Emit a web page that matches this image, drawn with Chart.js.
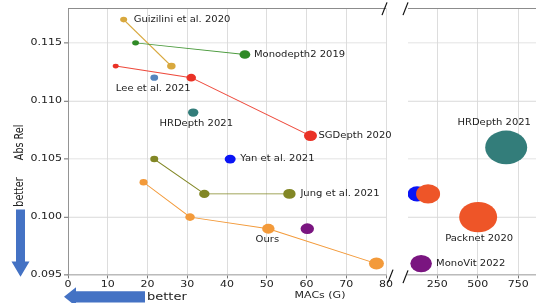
<!DOCTYPE html>
<html>
<head>
<meta charset="utf-8">
<script src="https://cdn.jsdelivr.net/npm/chart.js@4.4.1/dist/chart.umd.min.js"></script>
<style>
html, body { margin: 0; padding: 0; background: #fff; overflow: hidden; }
#left { position: absolute; left: 0; top: 0; }
#right { position: absolute; left: 395px; top: 0; }
</style>
</head>
<body>
<canvas id="left" width="400" height="379"></canvas>
<canvas id="right" width="141" height="379"></canvas>
<script>
Chart.defaults.font.family = "'DejaVu Sans', sans-serif";
Chart.defaults.color = '#222';

// the original figure is squashed vertically (circles look like ellipses)
const squashY = 0.8;

// low resolution models (left panel), MACs (G) vs Abs Rel
const guiziliniMacs = [14, 26];
const guiziliniAbsRel = [0.117, 0.113];
const monodepthMacs = [17, 44.5];
const monodepthAbsRel = [0.115, 0.114];
const sgdepthMacs = [12, 31, 61];
const sgdepthAbsRel = [0.113, 0.112, 0.107];
const leeMacs = [21.7];
const leeAbsRel = [0.112];
const hrdepthMacs = [31.5];
const hrdepthAbsRel = [0.109];
const yanMacs = [40.8];
const yanAbsRel = [0.105];
const jungMacs = [21.7, 34.3, 55.7];
const jungAbsRel = [0.105, 0.102, 0.102];
const oursMacs = [19, 30.7, 50.4, 77.6];
const oursAbsRel = [0.103, 0.100, 0.099, 0.096];
const monovitMacs = [60.2];
const monovitAbsRel = [0.099];

// high resolution models (right panel)
const yanHiMacs = [126];
const yanHiAbsRel = [0.102];
const packnetMacs = [194, 503];
const packnetAbsRel = [0.102, 0.100];
const hrdepthHiMacs = [676];
const hrdepthHiAbsRel = [0.106];
const monovitHiMacs = [151];
const monovitHiAbsRel = [0.096];

const yTicks = [0.095, 0.100, 0.105, 0.110, 0.115];
const leftXTicks = [0, 10, 20, 30, 40, 50, 60, 70, 80];
const rightXTicks = [250, 500, 750];

const leftSeries = [
  { name: 'Guizilini et al. 2020', x: guiziliniMacs, y: guiziliniAbsRel, color: '#d8a83e', line: true, r: [3.5, 4.3], lab: { i: 0, dx: 10, dy: 0, align: 'left' } },
  { name: 'Monodepth2 2019', x: monodepthMacs, y: monodepthAbsRel, color: '#2f8a26', lineColor: '#4a9a3c', line: true, r: [3.4, 5.4], lab: { i: 1, dx: 9, dy: 0, align: 'left' } },
  { name: 'SGDepth 2020', x: sgdepthMacs, y: sgdepthAbsRel, color: '#ea3226', lineColor: '#ee4a3c', line: true, r: [3, 4.8, 6.5], lab: { i: 2, dx: 8, dy: 0, align: 'left' } },
  { name: 'Lee et al. 2021', x: leeMacs, y: leeAbsRel, color: '#5584bd', r: [3.9], lab: { i: 0, dx: -1, dy: 14, align: 'center' } },
  { name: 'HRDepth 2021', x: hrdepthMacs, y: hrdepthAbsRel, color: '#337d7a', r: [5.2], lab: { i: 0, dx: 3, dy: 14, align: 'center' } },
  { name: 'Yan et al. 2021', x: yanMacs, y: yanAbsRel, color: '#0a14f5', r: [5.5], lab: { i: 0, dx: 10, dy: 0, align: 'left' } },
  { name: 'Jung et al. 2021', x: jungMacs, y: jungAbsRel, color: '#828725', line: true, r: [4, 5.2, 6.2], lab: { i: 2, dx: 11, dy: 0, align: 'left' } },
  { name: 'Ours', x: oursMacs, y: oursAbsRel, color: '#f39a3a', line: true, r: [4, 4.8, 6.2, 7.5], lab: { i: 2, dx: -1, dy: 14, align: 'center' } },
  { name: 'MonoVit 2022', x: monovitMacs, y: monovitAbsRel, color: '#7a1580', r: [6.7] }
];

const rightSeries = [
  { name: 'Yan et al. 2021', x: yanHiMacs, y: yanHiAbsRel, color: '#0a14f5', r: [9.5] },
  { name: 'Packnet 2020', x: packnetMacs, y: packnetAbsRel, color: '#ee5528', r: [12, 19], lab: { i: 1, dx: 1, dy: 27, align: 'center' } },
  { name: 'HRDepth 2021', x: hrdepthHiMacs, y: hrdepthHiAbsRel, color: '#337d7a', r: [21], lab: { i: 0, dx: -12, dy: -31, align: 'center' } },
  { name: 'MonoVit 2022', x: monovitHiMacs, y: monovitHiAbsRel, color: '#7a1580', r: [10.8], lab: { i: 0, dx: 15, dy: 0, align: 'left' } }
];

function toDatasets(series) {
  return series.map((s, k) => ({
    label: s.name,
    data: s.x.map((v, i) => ({ x: v, y: s.y[i] })),
    showLine: !!s.line,
    borderColor: s.lineColor || s.color,
    borderWidth: 1.2,
    backgroundColor: s.color,
    pointBackgroundColor: s.color,
    pointBorderWidth: 0,
    pointRadius: s.r,
    pointHoverRadius: s.r,
    order: series.length - k,
    pointLabel: s.lab
  }));
}

const pointLabels = {
  id: 'pointLabels',
  afterDatasetsDraw(chart) {
    const ctx = chart.ctx;
    ctx.save();
    ctx.font = "10px 'DejaVu Sans'";
    ctx.fillStyle = '#222';
    ctx.textBaseline = 'middle';
    chart.data.datasets.forEach((ds, di) => {
      const lab = ds.pointLabel;
      if (!lab) return;
      const el = chart.getDatasetMeta(di).data[lab.i];
      ctx.textAlign = lab.align;
      ctx.fillText(ds.label, el.x + lab.dx, el.y + lab.dy);
    });
    ctx.restore();
  }
};

function breakMark(ctx, x, y) {
  ctx.beginPath();
  ctx.moveTo(x - 3, y + 8);
  ctx.lineTo(x + 2, y - 8);
  ctx.stroke();
}

function topSpine(ctx, a) {
  ctx.strokeStyle = '#8c8c8c';
  ctx.lineWidth = 1.2;
  ctx.beginPath();
  ctx.moveTo(a.left, a.top + 0.5);
  ctx.lineTo(a.right, a.top + 0.5);
  ctx.stroke();
}

const leftFrame = {
  id: 'leftFrame',
  afterDraw(chart) {
    const ctx = chart.ctx;
    const a = chart.chartArea;
    ctx.save();
    topSpine(ctx, a);
    ctx.strokeStyle = '#111';
    ctx.lineWidth = 1.2;
    breakMark(ctx, a.right - 1, a.top + 1);
    breakMark(ctx, a.right + 5, a.bottom + 1);

    // axis titles
    ctx.fillStyle = '#222';
    ctx.textAlign = 'center';
    ctx.textBaseline = 'middle';
    ctx.font = "11px 'DejaVu Sans'";
    ctx.fillText('MACs (G)', 320, 370);
    ctx.save();
    ctx.translate(20, 178);
    ctx.rotate(-Math.PI / 2);
    ctx.font = "12px 'DejaVu Sans'";
    ctx.fillText('Abs Rel', 0, 0);
    ctx.restore();
    ctx.save();
    ctx.translate(20, 240);
    ctx.rotate(-Math.PI / 2);
    ctx.font = "12px 'DejaVu Sans'";
    ctx.fillText('better', 0, 0);
    ctx.restore();

    // "better" arrows
    ctx.fillStyle = '#4472c4';
    ctx.beginPath();
    ctx.moveTo(16, 262);
    ctx.lineTo(25, 262);
    ctx.lineTo(25, 327);
    ctx.lineTo(29.5, 327);
    ctx.lineTo(20.5, 346);
    ctx.lineTo(11.5, 327);
    ctx.lineTo(16, 327);
    ctx.closePath();
    ctx.fill();
    ctx.beginPath();
    ctx.moveTo(145, 364);
    ctx.lineTo(145, 378);
    ctx.lineTo(76, 378);
    ctx.lineTo(76, 383);
    ctx.lineTo(64, 371);
    ctx.lineTo(76, 359);
    ctx.lineTo(76, 364);
    ctx.closePath();
    ctx.fill();
    ctx.fillStyle = '#222';
    ctx.font = "13px 'DejaVu Sans'";
    ctx.textAlign = 'left';
    ctx.fillText('better', 147, 371);
    ctx.restore();
  }
};

const rightFrame = {
  id: 'rightFrame',
  afterDraw(chart) {
    const ctx = chart.ctx;
    const a = chart.chartArea;
    ctx.save();
    topSpine(ctx, a);
    ctx.strokeStyle = '#111';
    ctx.lineWidth = 1.2;
    breakMark(ctx, a.left - 2, a.top + 1);
    breakMark(ctx, a.left - 2, a.bottom + 2);
    ctx.restore();
  }
};

const gridColor = '#d9d9d9';
const yScale = (showTicks, width) => ({
  type: 'linear',
  min: 0.095,
  max: 0.118,
  afterBuildTicks: s => { s.ticks = yTicks.map(v => ({ value: v })); },
  afterFit: s => { s.width = width; },
  ticks: {
    display: showTicks,
    padding: 2,
    font: { size: 11 },
    color: '#222',
    callback: v => v.toFixed(3)
  },
  grid: { color: gridColor, lineWidth: 1.2, tickLength: 4, tickColor: '#666', drawTicks: showTicks },
  border: { display: showTicks, color: '#8c8c8c' }
});

const xScale = (min, max, ticks) => ({
  type: 'linear',
  min: min,
  max: max,
  afterBuildTicks: s => { s.ticks = ticks.map(v => ({ value: v })); },
  afterFit: s => { s.height = 35; },
  ticks: { padding: 1, font: { size: 11 }, color: '#222', maxRotation: 0 },
  grid: { color: gridColor, tickLength: 4, tickColor: '#666' },
  border: { color: '#8c8c8c', width: 1.2 }
});

const baseOptions = {
  responsive: false,
  animation: false,
  events: [],
  plugins: { legend: { display: false }, tooltip: { enabled: false } }
};

// redraw the chart into a shorter canvas with a vertical scale
function squash(chart) {
  const c = chart.canvas;
  c.height = Math.round(chart.height * squashY);
  c.style.height = c.height + 'px';
  chart.ctx.setTransform(1, 0, 0, squashY, 0, 0);
  chart.draw();
}

const leftChart = new Chart(document.getElementById('left').getContext('2d'), {
  type: 'scatter',
  data: { datasets: toDatasets(leftSeries) },
  options: {
    ...baseOptions,
    layout: { autoPadding: false, padding: { left: 0, right: 14, top: 10, bottom: 0 } },
    scales: { x: xScale(0, 80, leftXTicks), y: yScale(true, 68) }
  },
  plugins: [pointLabels, leftFrame]
});

const rightChart = new Chart(document.getElementById('right').getContext('2d'), {
  type: 'scatter',
  data: { datasets: toDatasets(rightSeries) },
  options: {
    ...baseOptions,
    layout: { autoPadding: false, padding: { left: 0, right: 0, top: 10, bottom: 0 } },
    scales: { x: xScale(70, 860, rightXTicks), y: yScale(false, 13) }
  },
  plugins: [pointLabels, rightFrame]
});

squash(leftChart);
squash(rightChart);
</script>
</body>
</html>
